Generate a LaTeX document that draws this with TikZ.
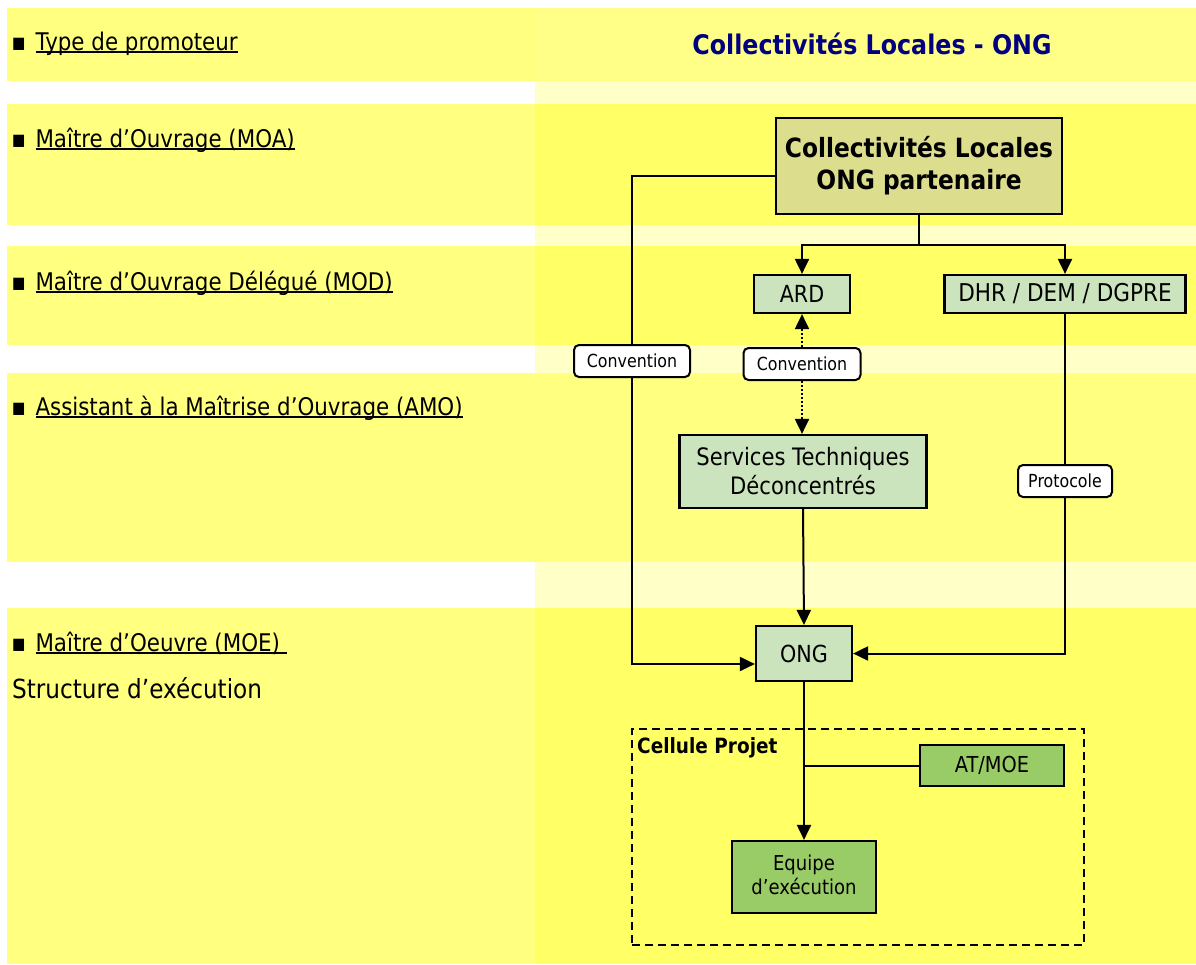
\documentclass[tikz,border=0pt]{standalone}
\usepackage{fontspec}
\setmainfont{DejaVu Sans}[FakeStretch=0.88]
\usetikzlibrary{arrows.meta,calc}
\definecolor{bandL}{HTML}{FFFF80}
\definecolor{bandR}{HTML}{FFFF66}
\definecolor{bandT}{HTML}{FFFF88}
\definecolor{gapR}{HTML}{FFFFC8}
\definecolor{topfill}{HTML}{DDDD8E}
\definecolor{lgreen}{HTML}{CCE4BE}
\definecolor{dgreen}{HTML}{99CC66}
\definecolor{navy}{HTML}{000080}
\newcommand\fsz[2]{\fontsize{#1}{#2}\selectfont}
\newcommand\ulbl[1]{\setbox0\hbox{#1}\rlap{\rule[-3pt]{\wd0}{1.6pt}}\box0}
\newcommand\bul{\raisebox{2pt}{\fsz{16}{16}■}\hspace{10pt}}
\tikzset{
  lefttext/.style={inner sep=0pt, anchor=base west, font=\fsz{24.3}{28}},
  gbox/.style={draw, line width=2.2pt, inner sep=0pt, align=center},
  topbox/.style={gbox, fill=topfill, font=\bfseries\fsz{26.5}{32}},
  lbox/.style={gbox, fill=lgreen, font=\fsz{23.5}{29}},
  dbox/.style={gbox, fill=dgreen, font=\fsz{20.5}{24}},
  tag/.style={draw, line width=2pt, fill=white, rounded corners=5pt, inner sep=0pt, font=\fsz{18}{22}},
  conn/.style={line width=2pt},
  arr/.style={conn, -{Triangle[length=15pt,width=14pt]}},
}
\begin{document}
\begin{tikzpicture}[x=1pt,y=-1pt]
\useasboundingbox (0,0) rectangle (1196,964);
% bands
\fill[white] (0,0) rectangle (1196,964);
\fill[bandL] (7,8) rectangle (535,81);
\fill[bandT] (535,8) rectangle (1196,81);
\fill[gapR] (535,81) rectangle (1196,104);
\fill[bandL] (7,104) rectangle (535,225);
\fill[bandR] (535,104) rectangle (1196,225);
\fill[gapR] (535,225) rectangle (1196,246);
\fill[bandL] (7,246) rectangle (535,345);
\fill[bandR] (535,246) rectangle (1196,345);
\fill[gapR] (535,345) rectangle (1196,373);
\fill[bandL] (7,373) rectangle (535,562);
\fill[bandL] (535,373) rectangle (1196,562);
\fill[gapR] (535,562) rectangle (1196,608);
\fill[bandL] (7,608) rectangle (535,964);
\fill[bandR] (535,608) rectangle (1196,964);

% left labels
\node[lefttext] (l1) at (12,50) {\bul\ulbl{Type de promoteur}};
\node[lefttext] (l2) at (12,147) {\bul\ulbl{Maître d’Ouvrage (MOA)}};
\node[lefttext] (l3) at (12,290) {\bul\ulbl{Maître d’Ouvrage Délégué (MOD)}};
\node[lefttext] (l4) at (12,415) {\bul\ulbl{Assistant à la Maîtrise d’Ouvrage (AMO)}};
\node[lefttext] (l5) at (12,651) {\bul\ulbl{Maître d’Oeuvre (MOE)\ }};
\node[lefttext, font=\fsz{26.3}{30}] (l6) at (12,698) {Structure d’exécution};

% header
\node[inner sep=0pt, anchor=base, font=\bfseries\fsz{27}{30}, text=navy] (hdr) at (872,54) {Collectivités Locales - ONG};

% cellule projet
\node[draw, line width=2pt, dash pattern=on 8pt off 5pt, minimum width=452pt, minimum height=216pt, inner sep=0pt] (cell) at (858,837) {};
\node[inner sep=0pt, anchor=north west, font=\bfseries\fsz{21}{24}] (celltxt) at ($(cell.north west)+(6,9)$) {Cellule Projet};

% boxes
\node[topbox, minimum width=286pt, minimum height=96pt] (coll) at (919,166) {Collectivités Locales\\ONG partenaire};
\node[lbox, minimum width=96pt, minimum height=38pt] (ard) at (802,294) {ARD};
\node[lbox, minimum width=241pt, minimum height=38pt, font=\fsz{24.5}{29}] (dhr) at (1065,294) {DHR / DEM / DGPRE};
\node[lbox, minimum width=247pt, minimum height=73pt, font=\fsz{24}{29}] (serv) at (803,471.5) {Services Techniques\\Déconcentrés};
\node[lbox, minimum width=96pt, minimum height=55pt] (ong) at (804,653.5) {ONG};
\node[dbox, minimum width=144pt, minimum height=41pt, font=\fsz{22}{24}] (at) at (992,765.5) {AT/MOE};
\node[dbox, minimum width=144pt, minimum height=72pt] (eq) at (804,877) {\raisebox{5pt}{Equipe}\\\raisebox{5pt}{d’exécution}};

% tags
\node[tag, minimum width=116pt, minimum height=32pt] (conv1) at (632,361) {Convention};
\node[tag, minimum width=117pt, minimum height=32pt] (conv2) at (802,364) {Convention};
\node[tag, minimum width=94pt, minimum height=32pt] (proto) at (1065,481) {Protocole};

% helper coordinates
\coordinate (c176) at (700,176);
\coordinate (lx) at (632,664);
\coordinate (split) at (919,245);

% connectors
\draw[conn] (coll.west |- c176) -| (conv1.north);
\draw[arr] (conv1.south) |- (ong.west |- lx);
\draw[conn] (coll.south) -- (split);
\draw[arr] (split) -| (ard.north);
\draw[arr] (split) -| (dhr.north);
\draw[arr, dash pattern=on 2pt off 2pt] (conv2.north) -- (ard.south);
\draw[arr, dash pattern=on 2pt off 2pt] (conv2.south) -- (conv2.south |- serv.north);
\draw[arr] (serv.south) -- (ong.north);
\draw[conn] (dhr.south) -- (proto.north);
\draw[arr] (proto.south) |- (ong.east);
\draw[arr] (ong.south) -- (eq.north);
\draw[conn] (at.west) -- (at.west -| ong.south);
\end{tikzpicture}
\end{document}
